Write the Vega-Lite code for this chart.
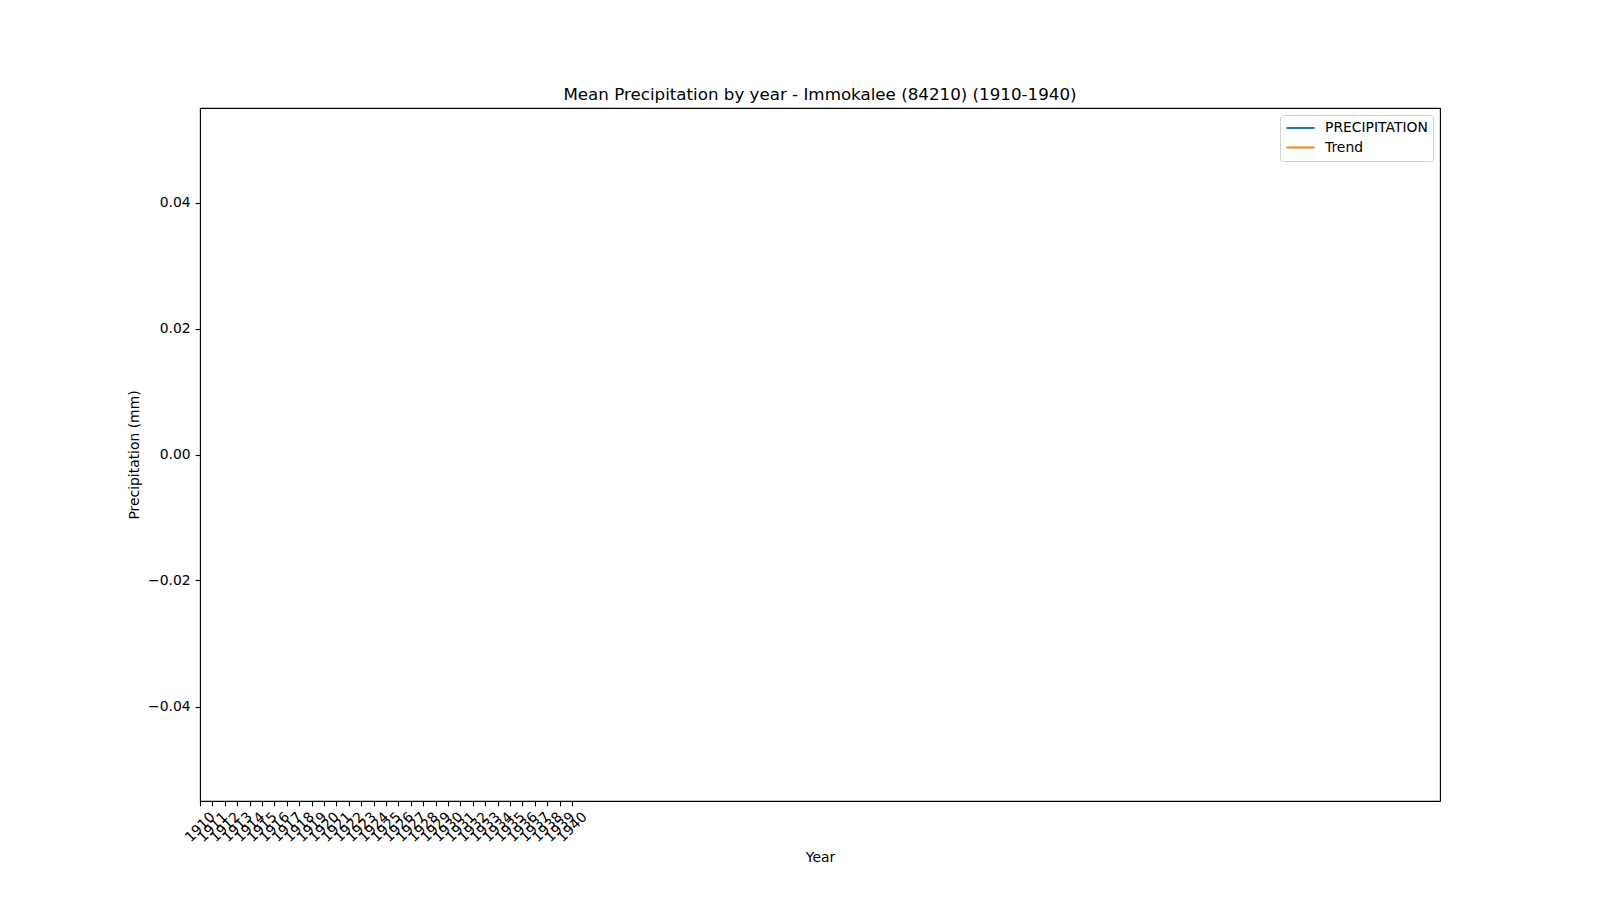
{
  "$schema": "https://vega.github.io/schema/vega-lite/v6.json",
  "width": 1240,
  "height": 693,
  "autosize": {"type": "none"},
  "padding": {"left": 200, "top": 108, "right": 160, "bottom": 99},
  "background": "white",
  "title": {
    "text": "Mean Precipitation by year - Immokalee (84210) (1910-1940)",
    "font": "DejaVu Sans",
    "fontSize": 16.7,
    "fontWeight": "normal",
    "color": "black",
    "anchor": "middle",
    "offset": 4
  },
  "config": {
    "view": {"stroke": "black", "strokeWidth": 1.1},
    "axis": {
      "labelFont": "DejaVu Sans",
      "labelFontSize": 13.9,
      "labelColor": "black",
      "titleFont": "DejaVu Sans",
      "titleFontSize": 13.9,
      "titleFontWeight": "normal",
      "titleColor": "black",
      "tickColor": "black",
      "tickSize": 4.9,
      "tickWidth": 1.1,
      "domain": false,
      "grid": false,
      "labelPadding": 4.9
    }
  },
  "data": {
    "values": [
      {"year": 1910, "series": "PRECIPITATION", "value": null},
      {"year": 1911, "series": "PRECIPITATION", "value": null},
      {"year": 1912, "series": "PRECIPITATION", "value": null},
      {"year": 1913, "series": "PRECIPITATION", "value": null},
      {"year": 1914, "series": "PRECIPITATION", "value": null},
      {"year": 1915, "series": "PRECIPITATION", "value": null},
      {"year": 1916, "series": "PRECIPITATION", "value": null},
      {"year": 1917, "series": "PRECIPITATION", "value": null},
      {"year": 1918, "series": "PRECIPITATION", "value": null},
      {"year": 1919, "series": "PRECIPITATION", "value": null},
      {"year": 1920, "series": "PRECIPITATION", "value": null},
      {"year": 1921, "series": "PRECIPITATION", "value": null},
      {"year": 1922, "series": "PRECIPITATION", "value": null},
      {"year": 1923, "series": "PRECIPITATION", "value": null},
      {"year": 1924, "series": "PRECIPITATION", "value": null},
      {"year": 1925, "series": "PRECIPITATION", "value": null},
      {"year": 1926, "series": "PRECIPITATION", "value": null},
      {"year": 1927, "series": "PRECIPITATION", "value": null},
      {"year": 1928, "series": "PRECIPITATION", "value": null},
      {"year": 1929, "series": "PRECIPITATION", "value": null},
      {"year": 1930, "series": "PRECIPITATION", "value": null},
      {"year": 1931, "series": "PRECIPITATION", "value": null},
      {"year": 1932, "series": "PRECIPITATION", "value": null},
      {"year": 1933, "series": "PRECIPITATION", "value": null},
      {"year": 1934, "series": "PRECIPITATION", "value": null},
      {"year": 1935, "series": "PRECIPITATION", "value": null},
      {"year": 1936, "series": "PRECIPITATION", "value": null},
      {"year": 1937, "series": "PRECIPITATION", "value": null},
      {"year": 1938, "series": "PRECIPITATION", "value": null},
      {"year": 1939, "series": "PRECIPITATION", "value": null},
      {"year": 1940, "series": "PRECIPITATION", "value": null},
      {"year": 1910, "series": "Trend", "value": null},
      {"year": 1940, "series": "Trend", "value": null}
    ]
  },
  "mark": {"type": "line", "strokeWidth": 2.1, "clip": true},
  "encoding": {
    "x": {
      "field": "year",
      "type": "quantitative",
      "scale": {"domain": [1910, 2010], "nice": false, "zero": false},
      "axis": {
        "title": "Year",
        "values": [1910,1911,1912,1913,1914,1915,1916,1917,1918,1919,1920,1921,1922,1923,1924,1925,1926,1927,1928,1929,1930,1931,1932,1933,1934,1935,1936,1937,1938,1939,1940],
        "format": "d",
        "labelAngle": -45,
        "labelAlign": "center",
        "labelBaseline": "middle",
        "labelPadding": 21,
        "labelOverlap": false,
        "labelFlush": false,
        "titlePadding": 6
      }
    },
    "y": {
      "field": "value",
      "type": "quantitative",
      "scale": {"domain": [-0.055, 0.055], "nice": false, "zero": false},
      "axis": {
        "title": "Precipitation (mm)",
        "values": [-0.04, -0.02, 0, 0.02, 0.04],
        "format": ".2f",
        "labelExpr": "replace(datum.label, '-', '−')",
        "titlePadding": 6
      }
    },
    "color": {
      "field": "series",
      "type": "nominal",
      "scale": {"domain": ["PRECIPITATION", "Trend"], "range": ["#1f77b4", "#ff7f0e"]},
      "legend": {
        "title": null,
        "orient": "none",
        "legendX": 1080,
        "legendY": 7,
        "symbolType": "stroke",
        "symbolSize": 784,
        "symbolStrokeWidth": 2.1,
        "labelFont": "DejaVu Sans",
        "labelFontSize": 13.9,
        "labelColor": "black",
        "labelOffset": 9,
        "clipHeight": 16,
        "rowPadding": 3.5,
        "padding": 5,
        "strokeColor": "#d0d0d0",
        "fillColor": "white",
        "cornerRadius": 3
      }
    }
  }
}
